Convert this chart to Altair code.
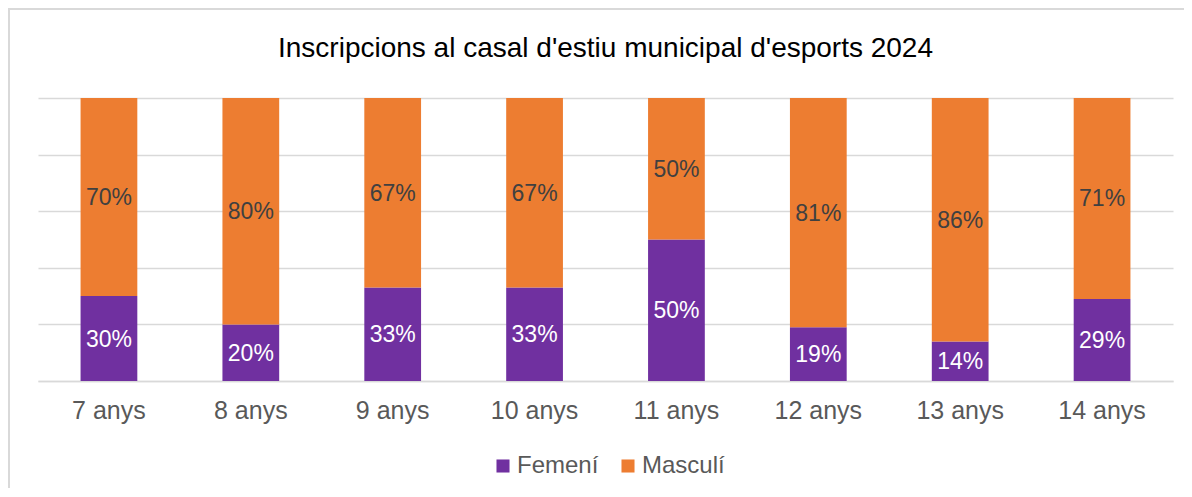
import altair as alt
import pandas as pd

ages = ["7 anys", "8 anys", "9 anys", "10 anys", "11 anys", "12 anys", "13 anys", "14 anys"]
femeni = [30, 20, 33, 33, 50, 19, 14, 29]
masculi = [70, 80, 67, 67, 50, 81, 86, 71]
series = ["Femení", "Masculí"]
colors = ["#7030A0", "#ED7D31"]
label_colors = ["#FFFFFF", "#404040"]
title_text = "Inscripcions al casal d'estiu municipal d'esports 2024"

rows = []
for i, a in enumerate(ages):
    rows.append({"age": a, "sex": series[0], "ord": 0, "value": femeni[i],
                 "label": f"{femeni[i]}%", "tcol": label_colors[0]})
    rows.append({"age": a, "sex": series[1], "ord": 1, "value": masculi[i],
                 "label": f"{masculi[i]}%", "tcol": label_colors[1]})
df = pd.DataFrame(rows)

FONT = "Liberation Sans"
W, H = 1135, 283

base = alt.Chart(df).transform_stack(
    stack="value", groupby=["age"], as_=["y0", "y1"],
    sort=[alt.SortField("ord", order="ascending")]
).transform_calculate(mid="(datum.y0 + datum.y1) / 2")

xenc = alt.X("age:N", sort=ages, title=None,
             scale=alt.Scale(paddingInner=0.6, paddingOuter=0.3),
             axis=alt.Axis(labelAngle=0, labelFont=FONT, labelFontSize=25,
                           labelColor="#595959", labelPadding=17, ticks=False,
                           domain=True, domainColor="#D9D9D9", domainWidth=1.5,
                           grid=False))
yscale = alt.Scale(domain=[0, 100], nice=False)

bars = base.mark_bar().encode(
    x=xenc,
    y=alt.Y("y0:Q", scale=yscale, title=None,
            axis=alt.Axis(values=[0, 20, 40, 60, 80, 100], labels=False, ticks=False,
                          domain=False, grid=True, gridColor="#D9D9D9", gridWidth=1.5)),
    y2="y1:Q",
    color=alt.Color("sex:N", sort=series,
                    scale=alt.Scale(domain=series, range=colors),
                    legend=alt.Legend(title=None, orient="none", direction="horizontal",
                                      legendX=453, legendY=356, symbolType="square",
                                      symbolSize=170, symbolStrokeWidth=0,
                                      labelFont=FONT, labelFontSize=24,
                                      labelColor="#595959", labelOffset=2,
                                      columnPadding=17)),
    order=alt.Order("ord:Q"),
)

text = base.mark_text(font=FONT, fontSize=23, baseline="middle", dy=1).encode(
    x=alt.X("age:N", sort=ages),
    y=alt.Y("mid:Q", scale=yscale),
    text="label:N",
    color=alt.Color("tcol:N", scale=None),
)

frame = alt.Chart(pd.DataFrame({"a": [0]})).mark_rect(
    fillOpacity=0, stroke="#D9D9D9", strokeWidth=2
).encode(x=alt.value(-29), x2=alt.value(1250), y=alt.value(-89), y2=alt.value(600))

title = alt.Chart(pd.DataFrame({"t": [title_text]})).mark_text(
    font=FONT, fontSize=28, color="#000000", baseline="alphabetic", align="center"
).encode(text="t:N", x=alt.value(W / 2), y=alt.value(-41))

chart = alt.layer(frame, bars, text, title).properties(
    width=W, height=H,
    autosize=alt.AutoSizeParams(type="none"),
    padding={"left": 30, "top": 90, "right": 11, "bottom": 107},
).configure_view(stroke=None)

chart.save("out.html", embed_options={"renderer": "svg", "actions": False})
